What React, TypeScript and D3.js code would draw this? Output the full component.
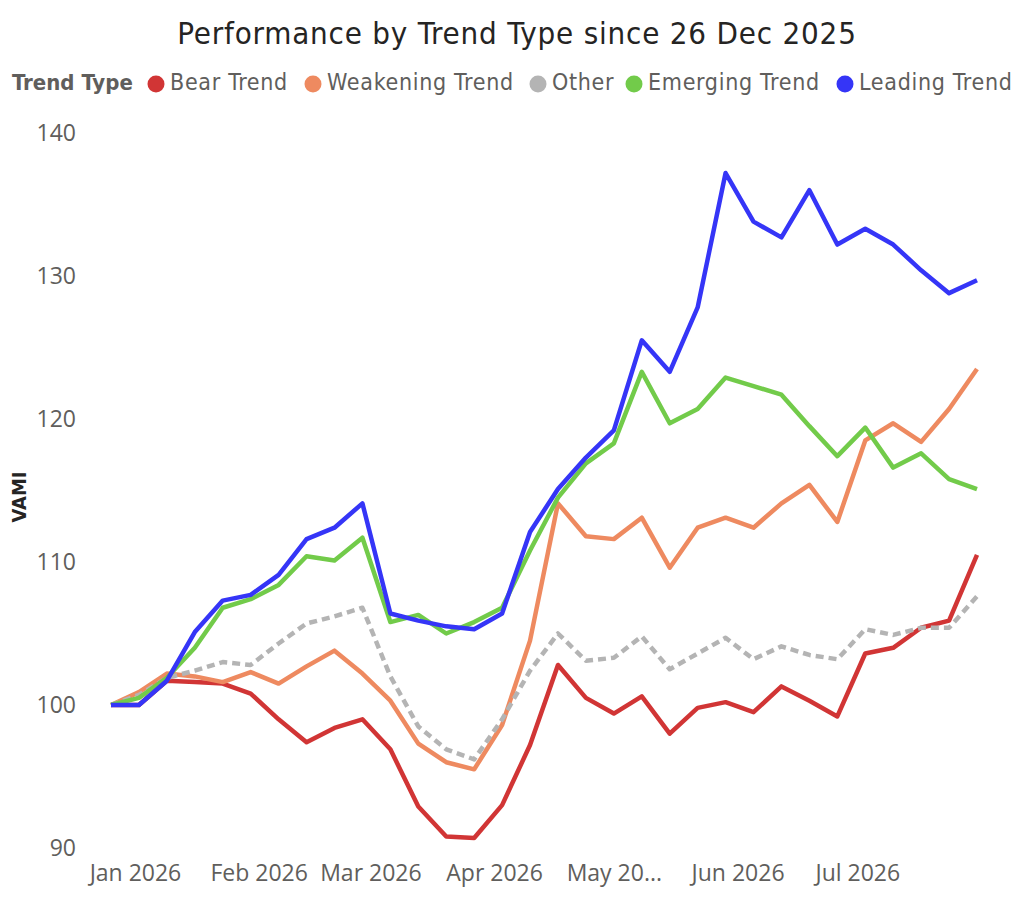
import { useEffect, useRef } from 'react';
import * as d3 from 'd3';

const weekDates = [
  '2025-12-26', '2026-01-02', '2026-01-09', '2026-01-16', '2026-01-23', '2026-01-30',
  '2026-02-06', '2026-02-13', '2026-02-20', '2026-02-27', '2026-03-06', '2026-03-13',
  '2026-03-20', '2026-03-27', '2026-04-03', '2026-04-10', '2026-04-17', '2026-04-24',
  '2026-05-01', '2026-05-08', '2026-05-15', '2026-05-22', '2026-05-29', '2026-06-05',
  '2026-06-12', '2026-06-19', '2026-06-26', '2026-07-03', '2026-07-10', '2026-07-17',
  '2026-07-24', '2026-07-31',
];

const bearTrend = [
  100, 100, 101.7, 101.6, 101.5, 100.8, 99.0, 97.4, 98.4, 99.0, 96.9, 92.9, 90.8, 90.7, 93.0, 97.2,
  102.8, 100.5, 99.4, 100.6, 98.0, 99.8, 100.2, 99.5, 101.3, 100.3, 99.2, 103.6, 104.0, 105.4, 105.9, 110.5,
];
const weakeningTrend = [
  100, 100.9, 102.2, 102.0, 101.6, 102.3, 101.5, 102.7, 103.8, 102.2, 100.3, 97.3, 96.0, 95.5, 98.6, 104.5,
  114.1, 111.8, 111.6, 113.1, 109.6, 112.4, 113.1, 112.4, 114.1, 115.4, 112.8, 118.5, 119.7, 118.4, 120.7, 123.5,
];
const otherTrend = [
  100, 100.7, 101.9, 102.4, 103.0, 102.8, 104.3, 105.7, 106.2, 106.8, 102.0, 98.5, 96.9, 96.2, 99.0, 102.4,
  105.0, 103.1, 103.3, 104.8, 102.5, 103.6, 104.7, 103.2, 104.1, 103.5, 103.2, 105.3, 104.9, 105.4, 105.4, 107.6,
];
const emergingTrend = [
  100, 100.5, 101.9, 104.0, 106.8, 107.4, 108.4, 110.4, 110.1, 111.7, 105.8, 106.3, 105.0, 105.8, 106.8, 110.8,
  114.5, 116.9, 118.3, 123.3, 119.7, 120.7, 122.9, 122.3, 121.7, 119.5, 117.4, 119.4, 116.6, 117.6, 115.8, 115.1,
];
const leadingTrend = [
  100, 100, 101.7, 105.1, 107.3, 107.7, 109.1, 111.6, 112.4, 114.1, 106.4, 105.9, 105.5, 105.3, 106.4, 112.1,
  115.1, 117.3, 119.2, 125.5, 123.3, 127.8, 137.2, 133.8, 132.7, 136.0, 132.2, 133.3, 132.2, 130.4, 128.8, 129.7,
];

const seriesNames = ['Bear Trend', 'Weakening Trend', 'Other', 'Emerging Trend', 'Leading Trend'];
const seriesColors = ['#D13535', '#EE8A60', '#B4B4B4', '#72CB4A', '#3535F7'];
const yTicks = [90, 100, 110, 120, 130, 140];
const xTickDates = ['2026-01-01', '2026-02-01', '2026-03-01', '2026-04-01', '2026-05-01', '2026-06-01', '2026-07-01'];
const xTickLabels = ['Jan 2026', 'Feb 2026', 'Mar 2026', 'Apr 2026', 'May 20...', 'Jun 2026', 'Jul 2026'];

const width = 1024;
const height = 906;

export default function App() {
  const svgRef = useRef<SVGSVGElement>(null);

  useEffect(() => {
    if (!svgRef.current) return;
    const svg = d3.select(svgRef.current);
    svg.selectAll('*').remove();

    const parse = d3.utcParse('%Y-%m-%d');
    const dates = weekDates.map(d => parse(d) as Date);
    const allSeries = [bearTrend, weakeningTrend, otherTrend, emergingTrend, leadingTrend];

    const xScale = d3.scaleUtc()
      .domain([dates[0], dates[dates.length - 1]])
      .range([111, 977]);
    const yScale = d3.scaleLinear()
      .domain([90, 140])
      .range([848, 133]);

    const condensed = '"DejaVu Sans Condensed", "DejaVu Sans", sans-serif';
    const tickFont = '"Open Sans", "Noto Sans", sans-serif';

    // Title
    svg.append('text')
      .attr('x', 517)
      .attr('y', 44)
      .attr('text-anchor', 'middle')
      .style('font-family', condensed)
      .style('font-stretch', 'condensed')
      .style('font-size', '31px')
      .style('letter-spacing', '0.8px')
      .style('fill', '#252423')
      .text('Performance by Trend Type since 26 Dec 2025');

    // Legend
    const legend = svg.append('g').attr('transform', 'translate(0, 84)');
    legend.append('text')
      .attr('x', 12)
      .attr('y', 6)
      .style('font-family', condensed)
      .style('font-stretch', 'condensed')
      .style('font-weight', 'bold')
      .style('font-size', '22px')
      .style('fill', '#605E5C')
      .text('Trend Type');
    const legendX = [156, 313, 538, 634, 845];
    seriesNames.forEach((name, i) => {
      legend.append('circle')
        .attr('cx', legendX[i])
        .attr('cy', 0)
        .attr('r', 8.5)
        .attr('fill', seriesColors[i]);
      legend.append('text')
        .attr('x', legendX[i] + 14)
        .attr('y', 6)
        .style('font-family', condensed)
        .style('font-stretch', 'condensed')
        .style('font-size', '23px')
        .style('letter-spacing', '0.7px')
        .style('fill', '#605E5C')
        .text(name);
    });

    // Y axis
    const yAxis = svg.append('g')
      .attr('transform', 'translate(76,0)')
      .call(d3.axisLeft(yScale).tickValues(yTicks).tickSize(0).tickPadding(0));
    yAxis.select('.domain').remove();
    yAxis.selectAll('text')
      .style('font-family', tickFont)
      .style('font-size', '23px')
      .style('fill', '#605E5C');

    svg.append('text')
      .attr('transform', 'translate(26,497) rotate(-90)')
      .attr('text-anchor', 'middle')
      .style('font-family', condensed)
      .style('font-stretch', 'condensed')
      .style('font-weight', 'bold')
      .style('font-size', '20px')
      .style('fill', '#252423')
      .text('VAMI');

    // X axis
    const tickDates = xTickDates.map(d => parse(d) as Date);
    const xAxis = svg.append('g')
      .attr('transform', 'translate(0,865)')
      .call(d3.axisBottom(xScale)
        .tickValues(tickDates)
        .tickFormat((_, i) => xTickLabels[i])
        .tickSize(0)
        .tickPadding(0));
    xAxis.select('.domain').remove();
    xAxis.selectAll('text')
      .attr('dy', '0.71em')
      .style('font-family', tickFont)
      .style('font-size', '23px')
      .style('fill', '#605E5C');

    // Lines
    const line = d3.line<number>()
      .x((_, i) => xScale(dates[i]))
      .y(d => yScale(d));

    allSeries.forEach((values, i) => {
      svg.append('path')
        .datum(values)
        .attr('d', line)
        .attr('fill', 'none')
        .attr('stroke', seriesColors[i])
        .attr('stroke-width', 4.5)
        .attr('stroke-linejoin', 'round')
        .attr('stroke-dasharray', seriesNames[i] === 'Other' ? '8,5' : null);
    });
  }, []);

  return (
    <div style={{ position: 'absolute', left: 0, top: 0 }}>
      <svg ref={svgRef} width={width} height={height} style={{ display: 'block', background: '#fff' }} />
    </div>
  );
}
